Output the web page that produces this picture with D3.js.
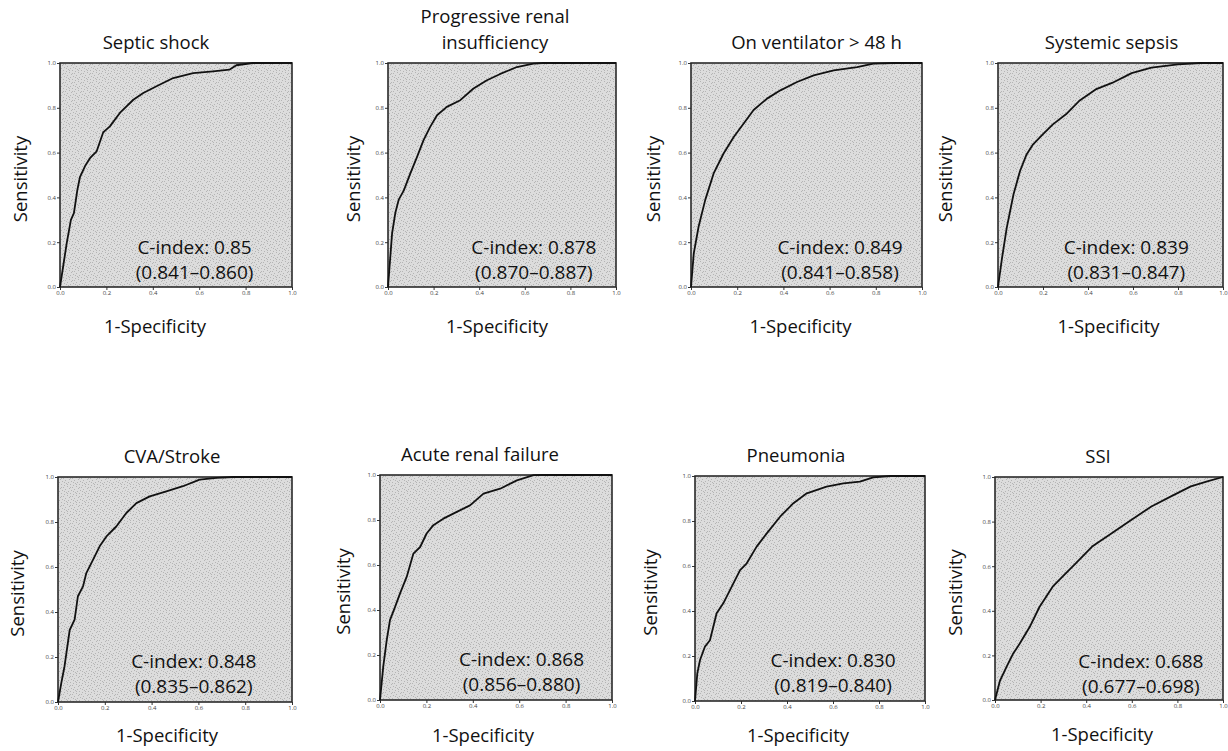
<!DOCTYPE html>
<html>
<head>
<meta charset="utf-8">
<script src="https://cdn.jsdelivr.net/npm/d3@7"></script>
<style>
  body { margin: 0; background: #fff; }
  text { font-family: "Open Sans", Lato, sans-serif; fill: #111; }
</style>
</head>
<body>
<svg id="chart" width="1228" height="751"></svg>
<script>
// panel titles and c-index labels
var titles = [["Septic shock"], ["Progressive renal", "insufficiency"], ["On ventilator > 48 h"], ["Systemic sepsis"],
              ["CVA/Stroke"], ["Acute renal failure"], ["Pneumonia"], ["SSI"]];
var cIndex = ["0.85", "0.878", "0.849", "0.839", "0.848", "0.868", "0.830", "0.688"];
var cRange = ["0.841–0.860", "0.870–0.887", "0.841–0.858", "0.831–0.847",
              "0.835–0.862", "0.856–0.880", "0.819–0.840", "0.677–0.698"];
var ticks = [0, 0.2, 0.4, 0.6, 0.8, 1.0];

// ROC curves: [1-specificity, sensitivity]
var septicShock = [[0,0],[0.029,0.196],[0.047,0.30],[0.06,0.33],[0.075,0.435],[0.086,0.49],[0.108,0.54],[0.13,0.576],
  [0.158,0.606],[0.186,0.69],[0.215,0.717],[0.258,0.777],[0.316,0.836],[0.359,0.866],[0.416,0.896],[0.488,0.933],
  [0.574,0.955],[0.66,0.963],[0.73,0.97],[0.76,0.99],[0.83,1],[1,1]];
var renalInsuff = [[0,0],[0.018,0.24],[0.032,0.33],[0.047,0.39],[0.069,0.43],[0.098,0.507],[0.127,0.58],[0.156,0.656],
  [0.185,0.715],[0.215,0.767],[0.258,0.804],[0.317,0.834],[0.375,0.886],[0.434,0.923],[0.49,0.95],[0.565,0.982],
  [0.638,0.997],[0.68,1],[1,1]];
var ventilator = [[0,0],[0.012,0.15],[0.033,0.27],[0.062,0.39],[0.098,0.507],[0.141,0.596],[0.185,0.67],[0.228,0.73],
  [0.271,0.79],[0.329,0.841],[0.387,0.878],[0.459,0.915],[0.531,0.945],[0.618,0.967],[0.719,0.982],[0.79,0.997],
  [0.877,1],[1,1]];
var sepsis = [[0,0],[0.018,0.13],[0.039,0.265],[0.069,0.414],[0.098,0.518],[0.127,0.592],[0.156,0.637],[0.2,0.682],
  [0.244,0.726],[0.302,0.771],[0.36,0.83],[0.434,0.882],[0.507,0.911],[0.594,0.955],[0.682,0.979],[0.8,0.994],
  [0.9,1],[1,1]];
var stroke = [[0,0],[0.014,0.084],[0.028,0.159],[0.05,0.32],[0.071,0.366],[0.085,0.47],[0.107,0.514],[0.121,0.573],
  [0.15,0.633],[0.178,0.692],[0.207,0.736],[0.249,0.78],[0.292,0.84],[0.335,0.884],[0.392,0.914],[0.463,0.936],
  [0.534,0.959],[0.605,0.988],[0.677,0.996],[0.748,1],[1,1]];
var renalFailure = [[0,0],[0.014,0.148],[0.029,0.266],[0.043,0.355],[0.065,0.414],[0.086,0.473],[0.115,0.547],
  [0.144,0.651],[0.173,0.68],[0.201,0.74],[0.23,0.777],[0.273,0.806],[0.331,0.836],[0.388,0.865],[0.446,0.917],
  [0.518,0.939],[0.59,0.976],[0.662,0.999],[0.7,1],[1,1]];
var pneumonia = [[0,0],[0.01,0.123],[0.022,0.182],[0.043,0.241],[0.065,0.27],[0.094,0.39],[0.123,0.434],[0.152,0.493],
  [0.196,0.582],[0.225,0.612],[0.268,0.686],[0.312,0.745],[0.37,0.819],[0.428,0.879],[0.486,0.923],[0.572,0.953],
  [0.645,0.967],[0.717,0.975],[0.775,0.994],[0.848,1],[1,1]];
var ssi = [[0,0],[0.022,0.087],[0.05,0.147],[0.079,0.207],[0.108,0.252],[0.152,0.327],[0.195,0.417],[0.253,0.508],
  [0.296,0.553],[0.354,0.613],[0.426,0.688],[0.512,0.748],[0.599,0.808],[0.686,0.868],[0.772,0.913],[0.859,0.958],
  [0.931,0.98],[1,1]];
var curves = [septicShock, renalInsuff, ventilator, sepsis, stroke, renalFailure, pneumonia, ssi];

// layout of each panel (plot box, label nudges)
var layout = [
  {x: 60,  y: 63,  w: 232, h: 224, tdx: -20, xdx: -21, xly: 46, ydx: 40, cfx: 0.58},
  {x: 388, y: 63,  w: 228, h: 224, tdx: -7,  xdx: -5,  xly: 46, ydx: 35, cfx: 0.64},
  {x: 691, y: 63,  w: 231, h: 224, tdx: 10,  xdx: -6,  xly: 46, ydx: 38, cfx: 0.645},
  {x: 998, y: 63,  w: 225, h: 224, tdx: 1,   xdx: -2,  xly: 46, ydx: 53, cfx: 0.57},
  {x: 58,  y: 477, w: 234, h: 225, tdx: -3,  xdx: -8,  xly: 40, ydx: 41, cfx: 0.58},
  {x: 380, y: 475, w: 232, h: 225, tdx: -16, xdx: -13, xly: 42, ydx: 37, cfx: 0.61},
  {x: 695, y: 476, w: 230, h: 225, tdx: -14, xdx: -12, xly: 41, ydx: 45, cfx: 0.60},
  {x: 995, y: 477, w: 228, h: 223, tdx: -11, xdx: -7,  xly: 41, ydx: 40, cfx: 0.64}
];

var svg = d3.select("#chart");

// speckled grey fill like the scanned plot area (irregular dots in a 9px tile)
var pat = svg.append("defs").append("pattern")
    .attr("id", "speckle")
    .attr("width", 9).attr("height", 9)
    .attr("patternUnits", "userSpaceOnUse");
pat.append("rect").attr("width", 9).attr("height", 9).attr("fill", "#dcdcdc");
[[0, 0], [5, 1], [2, 2], [7, 3], [4, 4], [1, 5], [8, 6], [3, 7], [6, 8], [0, 7], [6, 5], [3, 1]].forEach(function(d) {
    pat.append("rect").attr("x", d[0]).attr("y", d[1]).attr("width", 1).attr("height", 1).attr("fill", "#b4b4b4");
});

curves.forEach(function(data, i) {
    var p = layout[i];
    var x = d3.scaleLinear().domain([0, 1]).range([0, p.w]);
    var y = d3.scaleLinear().domain([0, 1]).range([p.h, 0]);

    var g = svg.append("g").attr("transform", "translate(" + p.x + "," + p.y + ")");

    g.append("rect")
        .attr("width", p.w)
        .attr("height", p.h)
        .attr("fill", "url(#speckle)");

    // axes with tiny tick labels
    var xAxis = g.append("g")
        .attr("transform", "translate(0," + p.h + ")")
        .call(d3.axisBottom(x).tickValues(ticks).tickFormat(d3.format(".1f")).tickSize(3).tickPadding(1));
    var yAxis = g.append("g")
        .call(d3.axisLeft(y).tickValues(ticks).tickFormat(d3.format(".1f")).tickSize(3).tickPadding(1));
    [xAxis, yAxis].forEach(function(a) {
        a.select(".domain").remove();
        a.selectAll("line").attr("stroke", "#333");
        a.selectAll("text").style("font-size", "6px").style("fill", "#444");
    });

    // frame
    g.append("rect")
        .attr("width", p.w)
        .attr("height", p.h)
        .attr("fill", "none")
        .attr("stroke", "#2a2a2a")
        .attr("stroke-width", 1.6);

    // ROC curve
    g.append("path")
        .datum(data)
        .attr("fill", "none")
        .attr("stroke", "#111")
        .attr("stroke-width", 1.8)
        .attr("stroke-linejoin", "round")
        .attr("d", d3.line()
            .x(function(d) { return x(d[0]); })
            .y(function(d) { return y(d[1]); }));

    // title, one or two lines
    var lines = titles[i];
    lines.forEach(function(t, k) {
        g.append("text")
            .attr("x", p.w / 2 + p.tdx)
            .attr("y", -14 - (lines.length - 1 - k) * 26)
            .attr("text-anchor", "middle")
            .style("font-size", "18.5px")
            .text(t);
    });

    // axis titles
    g.append("text")
        .attr("x", p.w / 2 + p.xdx)
        .attr("y", p.h + p.xly)
        .attr("text-anchor", "middle")
        .style("font-size", "18.5px")
        .text("1-Specificity");
    g.append("text")
        .attr("transform", "translate(" + (-p.ydx + 7) + "," + (p.h / 2 + 4) + ") rotate(-90)")
        .attr("text-anchor", "middle")
        .style("font-size", "18.5px")
        .text("Sensitivity");

    // c-index annotation
    g.append("text")
        .attr("x", p.w * p.cfx)
        .attr("y", 191)
        .attr("text-anchor", "middle")
        .style("font-size", "19px")
        .text("C-index: " + cIndex[i]);
    g.append("text")
        .attr("x", p.w * p.cfx)
        .attr("y", 216)
        .attr("text-anchor", "middle")
        .style("font-size", "19px")
        .text("(" + cRange[i] + ")");
});
</script>
</body>
</html>
